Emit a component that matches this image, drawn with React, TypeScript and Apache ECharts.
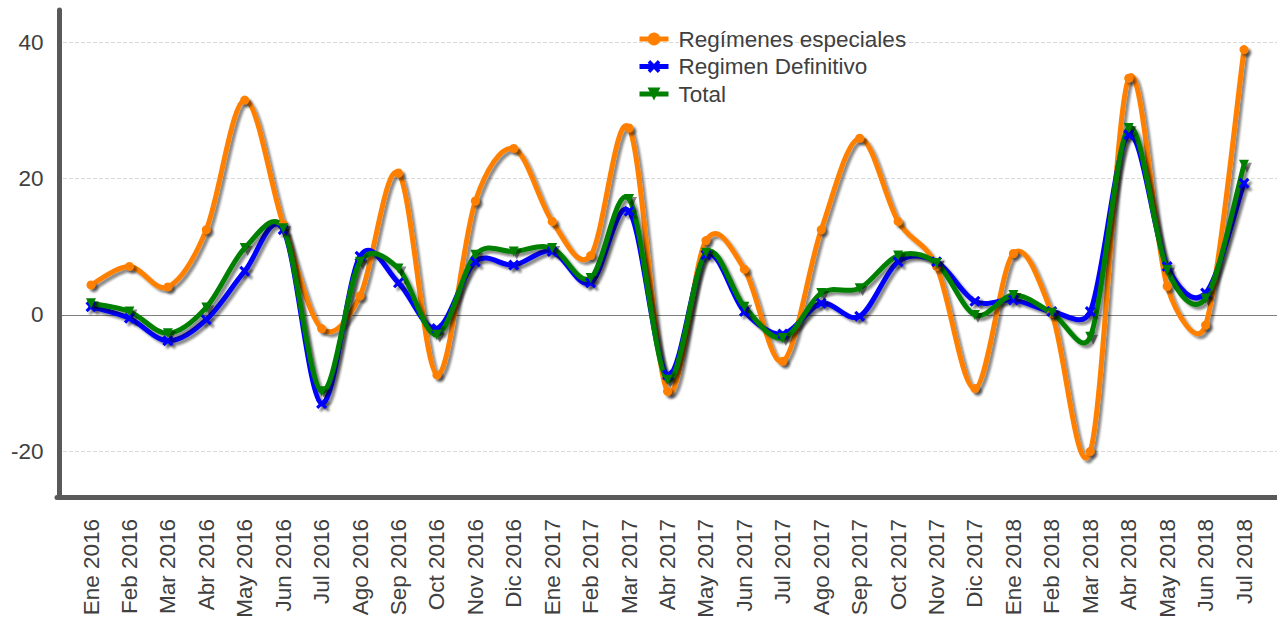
import React, { useEffect, useRef } from "react";
import * as echarts from "echarts";

const categories = [
  "Ene 2016", "Feb 2016", "Mar 2016", "Abr 2016", "May 2016", "Jun 2016", "Jul 2016", "Ago 2016",
  "Sep 2016", "Oct 2016", "Nov 2016", "Dic 2016", "Ene 2017", "Feb 2017", "Mar 2017", "Abr 2017",
  "May 2017", "Jun 2017", "Jul 2017", "Ago 2017", "Sep 2017", "Oct 2017", "Nov 2017", "Dic 2017",
  "Ene 2018", "Feb 2018", "Mar 2018", "Abr 2018", "May 2018", "Jun 2018", "Jul 2018",
];

const especiales = [4.4, 7.1, 4.1, 12.5, 31.5, 13.3, -2.0, 2.8, 20.8, -8.8, 16.7, 24.4, 13.7, 8.7, 27.4, -11.2, 10.9, 6.7, -6.8, 12.5, 25.9, 13.7, 7.1, -10.8, 9.0, 0.2, -20.0, 34.7, 4.2, -1.5, 38.9];
const definitivo = [1.2, -0.5, -3.8, -0.7, 6.4, 12.5, -13.0, 8.6, 4.7, -2.0, 7.8, 7.3, 9.3, 4.7, 15.2, -8.8, 8.8, 0.5, -2.8, 1.7, -0.2, 7.8, 7.8, 2.0, 2.2, 0.5, 0.5, 26.4, 7.1, 3.2, 19.3];
const total = [1.7, 0.5, -2.7, 1.1, 9.8, 12.7, -11.2, 7.8, 6.8, -2.9, 8.8, 9.3, 9.8, 5.4, 17.0, -9.5, 9.1, 1.2, -3.4, 3.2, 3.9, 8.7, 7.6, 0.0, 2.9, 0.3, -3.2, 27.4, 6.6, 2.4, 22.0];

const yTicks = [-20, 0, 20, 40];
const dashedTicks = [-20, 20, 40];
const zeroTick = [0];
const Y_MIN = -26.7;
const Y_MAX = 44.7;

const FONT = "'Liberation Sans', Arial, sans-serif";
const TEXT = "#404040";
const AXIS = "#595959";
const CROSS = "path://M0,2 L2,0 L5,3 L8,0 L10,2 L7,5 L10,8 L8,10 L5,7 L2,10 L0,8 L3,5 Z";

const shadow = {
  shadowColor: "rgba(0,0,0,0.45)",
  shadowBlur: 2,
  shadowOffsetX: 3,
  shadowOffsetY: 3,
};

// Excel-like smoothed curve through the points (pixel coords from the axes)
function smoothPath(pts: number[][]): string {
  const dist = (a: number[], b: number[]) => Math.hypot(b[0] - a[0], b[1] - a[1]);
  let d = `M${pts[0][0]},${pts[0][1]}`;
  for (let i = 0; i < pts.length - 1; i++) {
    const p0 = pts[i - 1] || pts[i];
    const p1 = pts[i];
    const p2 = pts[i + 1];
    const p3 = pts[i + 2] || pts[i + 1];
    const d02 = dist(p0, p2);
    const d13 = dist(p1, p3);
    const d12 = dist(p1, p2);
    const a1 = d02 > 0 ? Math.min(d02 / 6, d12 / 2) / d02 : 0;
    const a2 = d13 > 0 ? Math.min(d13 / 6, d12 / 2) / d13 : 0;
    const c1x = p1[0] + (p2[0] - p0[0]) * a1;
    const c1y = p1[1] + (p2[1] - p0[1]) * a1;
    const c2x = p2[0] - (p3[0] - p1[0]) * a2;
    const c2y = p2[1] - (p3[1] - p1[1]) * a2;
    d += ` C${c1x},${c1y} ${c2x},${c2y} ${p2[0]},${p2[1]}`;
  }
  return d;
}

function curveSeries(id: string, values: number[], color: string) {
  return {
    name: id,
    type: "custom",
    xAxisIndex: 0,
    yAxisIndex: 0,
    data: values.map((v, i) => [i, v]),
    encode: { x: 0, y: 1 },
    silent: true,
    itemStyle: { color },
    renderItem: (params: any, api: any) => {
      if (params.dataIndex !== 0) return null;
      const pts = values.map((v, i) => api.coord([i, v]));
      return {
        type: "path",
        shape: { pathData: smoothPath(pts) },
        style: {
          fill: "none",
          stroke: color,
          lineWidth: 5,
          lineJoin: "round",
          lineCap: "round",
          ...shadow,
        },
      };
    },
  };
}

function markerSeries(name: string, data: number[], color: string, symbol: string, size: number, rotate = 0) {
  return {
    name,
    type: "line",
    xAxisIndex: 0,
    yAxisIndex: 0,
    data,
    symbol,
    symbolSize: size,
    symbolRotate: rotate,
    showAllSymbol: true,
    lineStyle: { width: 5, color, opacity: 0 },
    itemStyle: { color, ...shadow },
    emphasis: { disabled: true },
  };
}

export default function App() {
  const ref = useRef<HTMLDivElement>(null);

  useEffect(() => {
    if (!ref.current) return;
    const chart = echarts.init(ref.current, undefined, { renderer: "svg" });
    chart.setOption({
      animation: false,
      backgroundColor: "#ffffff",
      textStyle: { fontFamily: FONT },
      grid: [
        { left: 91, right: 33, top: 10, bottom: 127 },
        { left: 57, right: 0, top: 10, bottom: 127 },
      ],
      legend: {
        left: 632,
        top: 22,
        orient: "vertical",
        itemWidth: 29,
        itemHeight: 16,
        itemGap: 3.5,
        lineStyle: { width: 5, opacity: 1 },
        textStyle: { fontSize: 22.5, color: TEXT, fontFamily: FONT, lineHeight: 24, padding: [0, 0, 0, 5] },
        data: ["Regímenes especiales", "Regimen Definitivo", "Total"],
      },
      xAxis: [
        {
          type: "category",
          gridIndex: 0,
          data: categories,
          boundaryGap: false,
          axisLine: { show: false },
          axisTick: { show: false },
          splitLine: { show: false },
          axisLabel: { rotate: 90, interval: 0, fontSize: 22.5, color: TEXT, fontFamily: FONT, margin: 22 },
        },
        {
          type: "value",
          gridIndex: 1,
          min: 0,
          max: 1,
          axisLine: { show: true, onZero: false, lineStyle: { color: AXIS, width: 5 } },
          axisTick: { show: false },
          axisLabel: { show: false },
          splitLine: { show: false },
        },
      ],
      yAxis: [
        {
          type: "value",
          gridIndex: 0,
          min: Y_MIN,
          max: Y_MAX,
          offset: 31.5,
          axisLine: { show: true, lineStyle: { color: AXIS, width: 5 } },
          axisTick: { show: false, customValues: yTicks },
          axisLabel: { customValues: yTicks, fontSize: 22.5, color: TEXT, fontFamily: FONT, margin: 16 },
          splitLine: { show: false },
        },
        {
          type: "value",
          gridIndex: 1,
          min: Y_MIN,
          max: Y_MAX,
          axisLine: { show: false },
          axisTick: { show: false, customValues: dashedTicks },
          axisLabel: { show: false, customValues: dashedTicks },
          splitLine: { show: true, lineStyle: { type: "dashed", color: "#d9d9d9", width: 1 } },
        },
        {
          type: "value",
          gridIndex: 1,
          min: Y_MIN,
          max: Y_MAX,
          axisLine: { show: false },
          axisTick: { show: false, customValues: zeroTick },
          axisLabel: { show: false, customValues: zeroTick },
          splitLine: { show: true, lineStyle: { type: "solid", color: "#808080", width: 1 } },
        },
      ],
      series: [
        curveSeries("curve-especiales", especiales, "#FF8000"),
        markerSeries("Regímenes especiales", especiales, "#FF8000", "circle", 9),
        curveSeries("curve-definitivo", definitivo, "#0000FF"),
        markerSeries("Regimen Definitivo", definitivo, "#0000FF", CROSS, 11),
        curveSeries("curve-total", total, "#008000"),
        markerSeries("Total", total, "#008000", "triangle", 10, 180),
      ],
    });
    return () => chart.dispose();
  }, []);

  return (
    <div
      ref={ref}
      style={{ position: "fixed", left: 0, top: 0, width: 1277, height: 624, background: "#fff" }}
    />
  );
}
